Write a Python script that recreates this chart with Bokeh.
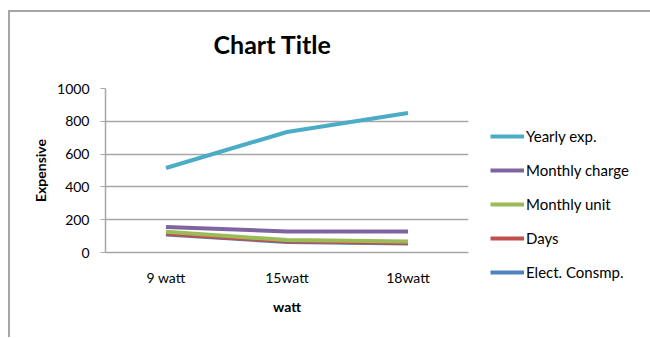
from bokeh.plotting import figure
from bokeh.models import Legend, LegendItem, FactorRange, Title
from bokeh.embed import file_html
from bokeh.resources import INLINE

# Lamp wattage categories and the five cost series
categories = ["9 watt", "15watt", "18watt"]
yearly_exp = [515, 735, 850]
monthly_charge = [156, 128, 128]
monthly_unit = [127, 76, 67]
days = [115, 68, 58]
elect_consmp = [110, 64, 55]

series_names = ["Yearly exp.", "Monthly charge", "Monthly unit", "Days", "Elect. Consmp."]
series_values = [yearly_exp, monthly_charge, monthly_unit, days, elect_consmp]
series_colors = ["#4bacc6", "#8064a2", "#9bbb59", "#c0504d", "#4f81bd"]

y_ticks = [0, 200, 400, 600, 800, 1000]
chart_title = "Chart Title"

FONT = "Lato"
GREY = "#a6a6a6"

p = figure(
    x_range=FactorRange(*categories, range_padding=0),
    y_range=(0, 1000),
    frame_width=363, frame_height=164,
    min_border_left=95, min_border_top=0, min_border_bottom=85, min_border_right=0,
    output_backend="svg", toolbar_location=None,
)
p.margin = (10, 0, 0, 8)
p.styles = {"border-left": f"2px solid {GREY}", "border-top": f"2px solid {GREY}"}

# A thin blank strip between the heading and the plot area, then the heading
p.add_layout(Title(text=" ", text_font_size="1px", standoff=13), "above")
p.add_layout(Title(
    text=chart_title, text_font=FONT, text_font_size="25px", text_font_style="bold",
    text_color="#000000", align="left", offset=108, standoff=28,
), "above")

# Draw so that the small series overlap the same way: blue first, yearly last
renderers = {}
for name, vals, col in reversed(list(zip(series_names, series_values, series_colors))):
    renderers[name] = p.line(categories, vals, line_color=col, line_width=4)

items = [LegendItem(label=n, renderers=[renderers[n]]) for n in series_names]
legend = Legend(items=items, location=(22, -30), orientation="vertical")
legend.label_text_font = FONT
legend.label_text_font_size = "15px"
legend.label_text_color = "#000000"
legend.glyph_width = 34
legend.glyph_height = 20
legend.label_standoff = 2
legend.spacing = 14
legend.padding = 0
legend.margin = 0
legend.border_line_color = None
legend.background_fill_alpha = 0
p.add_layout(legend, "right")

# Axes
p.yaxis.ticker = y_ticks
p.yaxis.axis_label = "Expensive"
p.xaxis.axis_label = "watt"
for ax in (p.xaxis[0], p.yaxis[0]):
    ax.axis_line_color = GREY
    ax.axis_line_width = 1.5
    ax.major_tick_line_color = GREY
    ax.minor_tick_line_color = None
    ax.major_label_text_font = FONT
    ax.major_label_text_font_size = "14px"
    ax.major_label_text_color = "#000000"
    ax.axis_label_text_font = FONT
    ax.axis_label_text_font_size = "14px"
    ax.axis_label_text_font_style = "bold"
    ax.axis_label_text_color = "#000000"
p.yaxis.major_tick_out = 5
p.yaxis.major_tick_in = 0
p.xaxis.major_tick_line_color = None
p.xaxis.major_label_standoff = 10
p.xaxis.axis_label_standoff = 9
p.yaxis.major_label_standoff = 11
p.yaxis.axis_label_standoff = 5

p.xgrid.grid_line_color = None
p.ygrid.grid_line_color = GREY
p.ygrid.grid_line_width = 1.5
p.outline_line_color = None
p.background_fill_color = "white"
p.border_fill_color = "white"

open("out.html", "w").write(file_html(p, INLINE))
